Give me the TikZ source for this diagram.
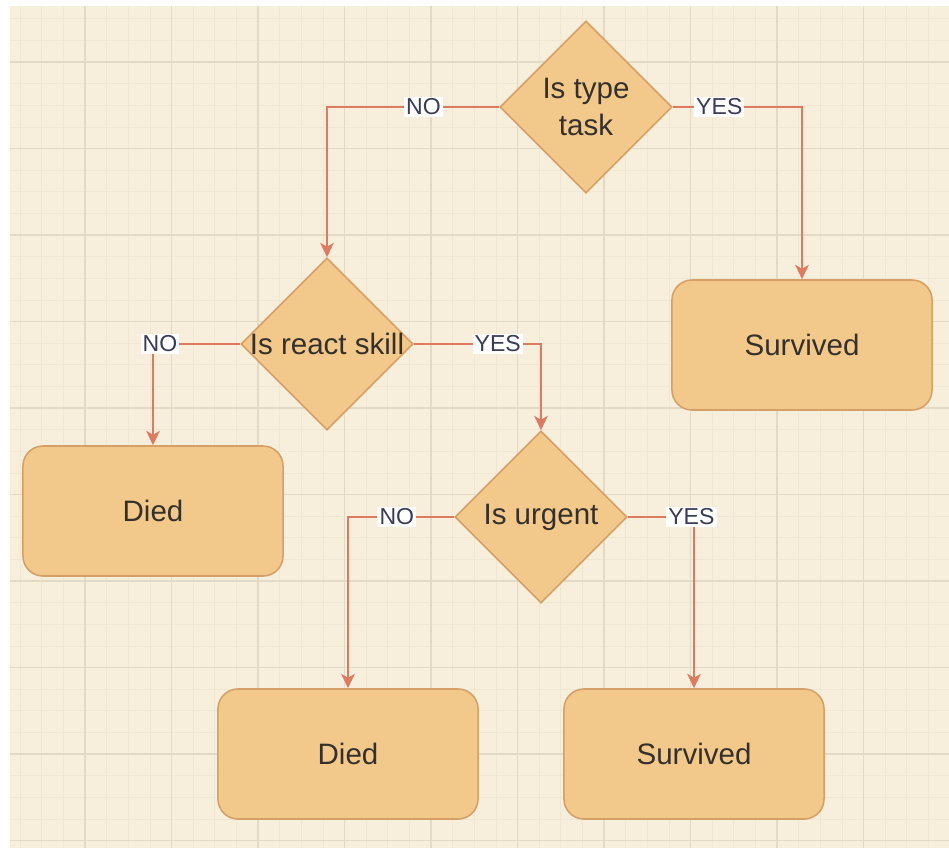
\documentclass[tikz,border=0pt]{standalone}
\usepackage{fontspec}
\setmainfont{Liberation Sans}
\usetikzlibrary{arrows.meta,shapes.geometric}

\definecolor{paper}{HTML}{F7EFDB}
\definecolor{gridminor}{HTML}{F0E7D2}
\definecolor{gridmajor}{HTML}{E2DAC5}
\definecolor{boxfill}{HTML}{F2C88B}
\definecolor{boxline}{HTML}{D4A067}
\definecolor{wire}{HTML}{DD7A62}
\definecolor{ink}{HTML}{35302B}
\definecolor{tag}{HTML}{393C56}

\begin{document}
\begin{tikzpicture}[x=0.025cm, y=-0.025cm,
	decision/.style={diamond, aspect=1, draw=boxline, fill=boxfill, line width=1.1pt,
		minimum width=4.3cm, minimum height=4.3cm, inner sep=0pt, align=center,
		text=ink, font=\fontsize{21}{27}\selectfont},
	outcome/.style={rectangle, rounded corners=0.5cm, draw=boxline, fill=boxfill, line width=1.1pt,
		minimum width=6.5cm, minimum height=3.25cm, text=ink, font=\fontsize{21}{27}\selectfont},
	flow/.style={draw=wire, line width=1.4pt, -{Stealth[length=0.36cm,width=0.34cm,inset=0.1cm]}},
	answer/.style={fill=white, inner sep=1.5pt, text=tag, font=\fontsize{16.4}{18}\selectfont}]
	\useasboundingbox (0,0) rectangle (949,848);

	% paper with grid
	\fill[paper] (10,6) rectangle (949,848);
	\begin{scope}
		\clip (10,6) rectangle (949,848);
		\foreach \i in {0,...,44} {
			\draw[gridminor, line width=0.5pt] ({-1.5+21.625*\i},0) -- ++(0,848);
			\draw[gridminor, line width=0.5pt] (0,{-24.5+21.625*\i}) -- ++(949,0);
		}
		\foreach \i in {0,...,11} {
			\draw[gridmajor, line width=0.8pt] ({-1.5+86.5*\i},0) -- ++(0,848);
			\draw[gridmajor, line width=0.8pt] (0,{-24.5+86.5*\i}) -- ++(949,0);
		}
	\end{scope}

	\node[decision] (Q1) at (586,107) {Is type\\task};
	\node[decision] (Q2) at (327,344) {\makebox[0pt]{Is react skill}};
	\node[decision] (Q3) at (541,517) {Is urgent};
	\node[outcome] (S1) at (802,345) {Survived};
	\node[outcome] (D1) at (153,511) {Died};
	\node[outcome] (D2) at (348,754) {Died};
	\node[outcome] (S2) at (694,754) {Survived};

	\draw[flow] (Q1.west) -| node[answer, pos=0.22] {NO} (Q2.north);
	\draw[flow] (Q1.east) -| node[answer, pos=0.18] {YES} (S1.north);
	\draw[flow] (Q2.west) -| node[answer, pos=0.46] {NO} (D1.north);
	\draw[flow] (Q2.east) -| node[answer, pos=0.33] {YES} (Q3.north);
	\draw[flow] (Q3.west) -| node[answer, pos=0.27] {NO} (D2.north);
	\draw[flow] (Q3.east) -| node[answer, pos=0.48] {YES} (S2.north);
\end{tikzpicture}
\end{document}
